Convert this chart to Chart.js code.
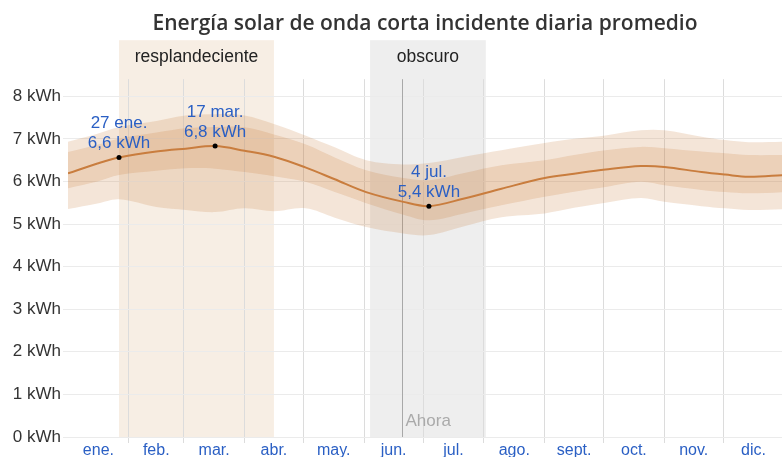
<!DOCTYPE html>
<html>
<head>
<meta charset="utf-8">
<script src="https://cdn.jsdelivr.net/npm/chart.js@4"></script>
<style>
  body { margin: 0; background: #fff; }
  #wrap { width: 782px; height: 457px; }
</style>
</head>
<body>
<div id="wrap"><canvas id="solarChart"></canvas></div>
<script>
// day of year (0 = 1 ene.) and daily mean / percentile bands, kWh
const days = [0, 15, 26, 45, 60, 75, 90, 105, 121, 136, 152, 171, 184, 202, 221, 243, 258, 274, 292, 304, 323, 335, 347, 365];
const mean = [6.19, 6.42, 6.56, 6.70, 6.77, 6.83, 6.72, 6.58, 6.33, 6.05, 5.75, 5.52, 5.42, 5.6, 5.83, 6.08, 6.18, 6.28, 6.36, 6.34, 6.22, 6.16, 6.11, 6.15];
const p90 = [6.93, 7.12, 7.28, 7.42, 7.55, 7.58, 7.55, 7.35, 7.08, 6.80, 6.50, 6.40, 6.43, 6.58, 6.73, 6.90, 7.00, 7.08, 7.20, 7.20, 7.05, 6.97, 6.92, 6.93];
const p75 = [6.69, 6.86, 7.01, 7.15, 7.25, 7.28, 7.27, 7.10, 6.87, 6.56, 6.26, 6.08, 6.03, 6.20, 6.38, 6.50, 6.62, 6.73, 6.81, 6.78, 6.70, 6.66, 6.62, 6.62];
const p25 = [5.84, 6.00, 6.15, 6.25, 6.31, 6.30, 6.22, 6.12, 5.99, 5.75, 5.49, 5.22, 5.09, 5.25, 5.44, 5.64, 5.76, 5.87, 5.99, 5.91, 5.80, 5.75, 5.72, 5.75];
const p10 = [5.35, 5.48, 5.58, 5.40, 5.33, 5.28, 5.37, 5.30, 5.37, 5.15, 4.93, 4.78, 4.74, 4.95, 5.16, 5.25, 5.38, 5.50, 5.61, 5.52, 5.42, 5.37, 5.33, 5.35];

// months
const monthNames = ["ene.", "feb.", "mar.", "abr.", "may.", "jun.", "jul.", "ago.", "sept.", "oct.", "nov.", "dic."];
const monthStart = [0, 31, 59, 90, 120, 151, 181, 212, 243, 273, 304, 334, 365];

// shaded seasons
const seasonNames = ["resplandeciente", "obscuro"];
const seasonStart = [26, 154];
const seasonEnd = [105, 213];

// marked points
const markDays = [26, 75, 184];
const markValues = [6.56, 6.83, 5.42];
const markDates = ["27 ene.", "17 mar.", "4 jul."];

const nowDay = 170.5;

const BLUE = "#2a5fc4";
const FONT = '"Liberation Sans", Arial, sans-serif';

function pts(arr) {
  return days.map((d, i) => ({ x: d, y: arr[i] }));
}

function kwh(v) {
  return v.toFixed(1).replace(".", ",") + " kWh";
}

// season backgrounds + labels, "Ahora" line, point labels
const seasonPlugin = {
  id: "seasons",
  beforeDraw(chart) {
    const { ctx, chartArea, scales } = chart;
    const colors = ["rgba(238,218,196,0.45)", "#eeeeee"];
    ctx.save();
    seasonNames.forEach((name, i) => {
      const x0 = scales.x.getPixelForValue(seasonStart[i]);
      const x1 = scales.x.getPixelForValue(seasonEnd[i]);
      ctx.fillStyle = colors[i];
      ctx.fillRect(x0, chartArea.top - 39, x1 - x0, chartArea.bottom - chartArea.top + 39);
      ctx.fillStyle = "#222";
      ctx.font = "17.5px " + FONT;
      ctx.textAlign = "center";
      ctx.textBaseline = "middle";
      ctx.fillText(name, (x0 + x1) / 2, chartArea.top - 22);
    });
    ctx.restore();
  },
  beforeDatasetsDraw(chart) {
    const { ctx, chartArea, scales } = chart;
    const nx = Math.round(scales.x.getPixelForValue(nowDay)) + 0.5;
    ctx.save();
    ctx.strokeStyle = "#a8a8a8";
    ctx.lineWidth = 1;
    ctx.beginPath();
    ctx.moveTo(nx, chartArea.top);
    ctx.lineTo(nx, chartArea.bottom);
    ctx.stroke();
    ctx.fillStyle = "#aaa";
    ctx.font = "17px " + FONT;
    ctx.textAlign = "left";
    ctx.textBaseline = "middle";
    ctx.fillText("Ahora", nx + 3, chartArea.bottom - 16);
    ctx.restore();
  },
  afterDatasetsDraw(chart) {
    const { ctx, scales } = chart;
    ctx.save();
    ctx.fillStyle = BLUE;
    ctx.font = "17px " + FONT;
    ctx.textAlign = "center";
    ctx.textBaseline = "middle";
    markDays.forEach((d, i) => {
      const px = scales.x.getPixelForValue(d);
      const py = scales.y.getPixelForValue(markValues[i]);
      ctx.fillText(markDates[i], px, py - 34);
      ctx.fillText(kwh(markValues[i]), px, py - 14);
    });
    ctx.restore();
  }
};

const ctx = document.getElementById("solarChart").getContext("2d");

new Chart(ctx, {
  type: "line",
  data: {
    datasets: [
      {
        label: "marcas",
        data: markDays.map((d, i) => ({ x: d, y: markValues[i] })),
        showLine: false,
        pointRadius: 2.5,
        pointBackgroundColor: "#000",
        pointBorderWidth: 0
      },
      {
        label: "promedio",
        data: pts(mean),
        borderColor: "#c97d3e",
        borderWidth: 2,
        pointRadius: 0,
        tension: 0.35,
        fill: false
      },
      {
        label: "p75",
        data: pts(p75),
        borderWidth: 0,
        pointRadius: 0,
        tension: 0.35,
        fill: "+1",
        backgroundColor: "rgba(200,125,60,0.2)"
      },
      {
        label: "p25",
        data: pts(p25),
        borderWidth: 0,
        pointRadius: 0,
        tension: 0.35,
        fill: false
      },
      {
        label: "p90",
        data: pts(p90),
        borderWidth: 0,
        pointRadius: 0,
        tension: 0.35,
        fill: "+1",
        backgroundColor: "rgba(200,125,60,0.2)"
      },
      {
        label: "p10",
        data: pts(p10),
        borderWidth: 0,
        pointRadius: 0,
        tension: 0.35,
        fill: false
      }
    ]
  },
  options: {
    responsive: true,
    maintainAspectRatio: false,
    animation: false,
    layout: { padding: 0, autoPadding: false },
    plugins: {
      legend: { display: false },
      tooltip: { enabled: false },
      title: {
        display: true,
        fullSize: false,
        text: "Energía solar de onda corta incidente diaria promedio",
        color: "#333",
        font: { family: '"Open Sans", "Noto Sans", sans-serif', size: 21, weight: 600 },
        padding: { top: 11, bottom: 43 }
      }
    },
    scales: {
      x: {
        type: "linear",
        min: 0,
        max: 364,
        afterBuildTicks(scale) {
          const t = [];
          monthNames.forEach((m, i) => {
            t.push({ value: monthStart[i] });
            t.push({ value: (monthStart[i] + monthStart[i + 1]) / 2 });
          });
          scale.ticks = t;
        },
        afterFit(scale) {
          scale.height = 20;
          scale.paddingLeft = 0;
          scale.paddingRight = 0;
        },
        border: { display: false },
        grid: {
          tickLength: 6,
          color(c) {
            if (!c.tick) return "transparent";
            const v = c.tick.value;
            return v > 0 && monthStart.includes(v) ? "#dcdcdc" : "transparent";
          }
        },
        ticks: {
          autoSkip: false,
          maxRotation: 0,
          padding: -2,
          color: BLUE,
          font: { family: FONT, size: 16 },
          callback(v) {
            if (monthStart.indexOf(v) >= 0) return "";
            const k = monthStart.findIndex(s => s > v) - 1;
            return monthNames[k];
          }
        }
      },
      y: {
        min: 0,
        max: 8.4,
        afterFit(scale) { scale.width = 68; },
        border: { display: false },
        grid: { color: "#ebebeb", tickLength: 5 },
        ticks: {
          stepSize: 1,
          includeBounds: false,
          padding: 2,
          color: "#333",
          font: { family: FONT, size: 17 },
          callback: v => v + " kWh"
        }
      }
    }
  },
  plugins: [seasonPlugin]
});
</script>
</body>
</html>
